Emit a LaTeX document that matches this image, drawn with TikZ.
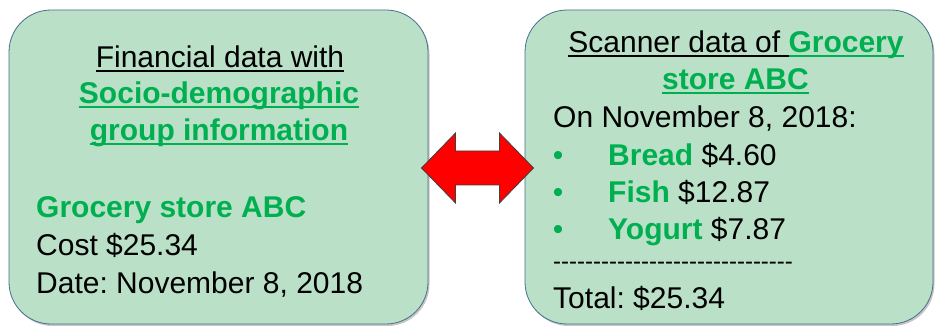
\documentclass[tikz,border=0pt]{standalone}
\usepackage{fontspec}
\setmainfont{Liberation Sans}
\usetikzlibrary{shadows}

\definecolor{panelfill}{RGB}{187,224,200}
\definecolor{paneledge}{RGB}{70,110,140}
\definecolor{textgreen}{RGB}{0,176,80}

% underline sitting just under the baseline, in the current colour
\newlength\ulwd
\newcommand{\ulin}[1]{\settowidth{\ulwd}{#1}\rlap{\rule[-4pt]{\ulwd}{1.8pt}}#1}
\newcommand{\gr}[1]{{\color{textgreen}\bfseries #1}}
\frenchspacing

\begin{document}
\begin{tikzpicture}[x=1pt,y=-1pt,
		panel/.style={draw=paneledge, line width=.8pt, fill=panelfill, rounded corners=42pt,
			inner sep=0pt, drop shadow={shadow xshift=1.5pt, shadow yshift=-2pt, opacity=.45}},
		txt/.style={inner sep=0pt, font=\fontsize{30}{36}\selectfont},
		swap/.style={fill=red, draw=black!75, line width=.8pt, line join=miter}]
	\useasboundingbox (0,0) rectangle (935,326);
	% the two panels
	\node[panel, minimum width=419pt, minimum height=314pt] (fin) at (218.5,167) {};
	\node[panel, minimum width=408pt, minimum height=314pt] (scan) at (729,167) {};
	% left panel
	\node[txt, anchor=base] (finA) at (220,68) {\ulin{Financial data with}};
	\node[txt, anchor=base] (finB) at (219,104) {\gr{\ulin{Socio-demographic}}};
	\node[txt, anchor=base] (finC) at (219,141) {\gr{\ulin{group information}}};
	\node[txt, anchor=base west] (store) at (36,218) {\gr{Grocery store ABC}};
	\node[txt, anchor=base west] (cost) at (36,255) {Cost \$25.34};
	\node[txt, anchor=base west] (date) at (36,293) {Date: November 8, 2018};
	% right panel
	\node[txt, anchor=base] (scanA) at (736,53) {\ulin{Scanner data of }\gr{\ulin{Grocery}}};
	\node[txt, anchor=base] (scanB) at (735.5,90) {\gr{\ulin{store ABC}}};
	\node[txt, anchor=base west] (day) at (553,128) {On November 8, 2018:};
	\node[txt, anchor=base, text=textgreen] (b1) at (558,166) {•};
	\node[txt, anchor=base west] (bread) at (608,166) {\gr{Bread} \$4.60};
	\node[txt, anchor=base, text=textgreen] (b2) at (558,203) {•};
	\node[txt, anchor=base west] (fish) at (608,203) {\gr{Fish} \$12.87};
	\node[txt, anchor=base, text=textgreen] (b3) at (558,240) {•};
	\node[txt, anchor=base west] (yogurt) at (608,240) {\gr{Yogurt} \$7.87};
	\node[inner sep=0pt, font=\fontsize{24}{28}\selectfont, anchor=west] (rule) at (553,266)
		{-{}-{}-{}-{}-{}-{}-{}-{}-{}-{}-{}-{}-{}-{}-{}-{}-{}-{}-{}-{}-{}-{}-{}-{}-{}-{}-{}-{}-{}-};
	\node[txt, anchor=base west] (total) at (553,308) {Total: \$25.34};
	% red two-way arrow between the panels
	\coordinate (mid) at (477.5,168);
	\draw[swap] (mid) ++(-56,0) -- ++(34,-35) -- ++(0,18) -- ++(44,0) -- ++(0,-18)
		-- ++(34,35) -- ++(-34,35) -- ++(0,-18) -- ++(-44,0) -- ++(0,18) -- cycle;
\end{tikzpicture}
\end{document}
